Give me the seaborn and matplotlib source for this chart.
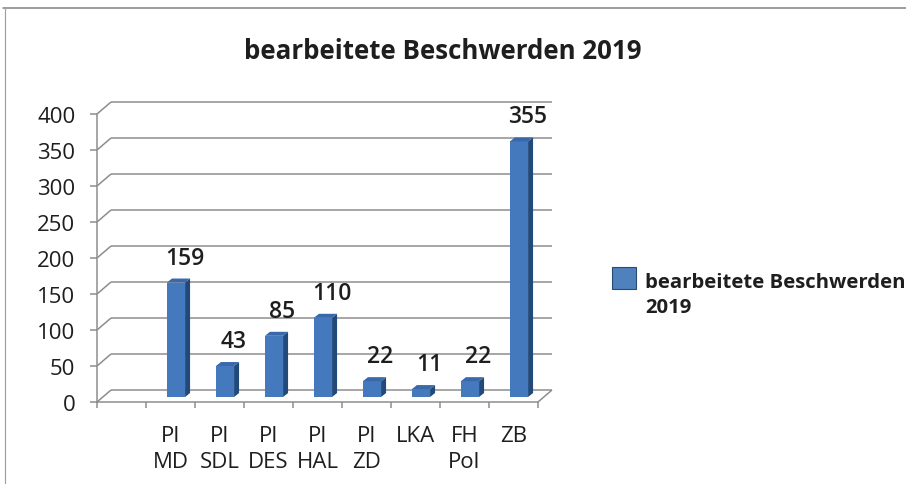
import numpy as np
import pandas as pd
import matplotlib
matplotlib.use("Agg")
import matplotlib.pyplot as plt
import seaborn as sns
from matplotlib.patches import Polygon, Patch, Rectangle
from matplotlib.lines import Line2D
from matplotlib.legend_handler import HandlerPatch
from matplotlib.transforms import IdentityTransform, ScaledTranslation, offset_copy

# ---- data ----
categories = ["PI\nMD", "PI\nSDL", "PI\nDES", "PI\nHAL", "PI\nZD", "LKA", "FH\nPol", "ZB"]
values = [159, 43, 85, 110, 22, 11, 22, 355]
series_name = "bearbeitete Beschwerden\n2019"
title = "bearbeitete Beschwerden 2019"
y_ticks = [0, 50, 100, 150, 200, 250, 300, 350, 400]

# ---- style ----
sns.set_theme(style="white")
plt.rcParams['font.family'] = ['Open Sans', 'DejaVu Sans']

W, H = 906, 485
DPI = 100
fig = plt.figure(figsize=(W / DPI, H / DPI), dpi=DPI)
fig.patch.set_facecolor("white")

front = "#4479BD"
side = "#21497A"
top = "#3969A8"
grid_c = "#8C8C8C"
text_c = "#1E1E1E"

ax = fig.add_axes([97 / W, (H - 403) / H, 441 / W, 288 / H])
df = pd.DataFrame({"cat": categories, "val": values})
sns.barplot(data=df, x="cat", y="val", width=0.37, color=front, saturation=1,
            ax=ax, zorder=3, edgecolor="none")
ax.set_xlim(-1.5, len(categories) - 0.5)
ax.set_ylim(0, 400)
ax.set_xlabel("")
ax.set_ylabel("")
ax.set_facecolor("none")

# 3D geometry (display pixels)
DX, DY = 14, 12          # back wall offset
MX, MY = 5.5, 5          # bar front-face offset
BX, BY = 5, 4            # bar depth

td = ax.transData
lw_px = 1.5
lw = lw_px * 72 / DPI
x_lo, x_hi = ax.get_xlim()
for v in y_ticks:
    p = td.transform((x_lo, v))
    q = td.transform((x_hi, v))
    segs = [[p, p + (DX, DY)], [p + (DX, DY), q + (DX, DY)]]
    if v == 0:
        segs.append([q, q + (DX, DY)])
    for s in segs:
        s = np.array(s)
        ax.add_line(Line2D(s[:, 0], s[:, 1], transform=IdentityTransform(),
                           color=grid_c, lw=lw, zorder=1, clip_on=False,
                           solid_capstyle="butt"))

shift = ScaledTranslation(MX / DPI, MY / DPI, fig.dpi_scale_trans)
for bar in ax.patches:
    x0 = bar.get_x()
    x1 = x0 + bar.get_width()
    h = bar.get_height()
    bar.set_transform(td + shift)
    bar.set_clip_on(False)
    a = td.transform((x0, h)) + (MX, MY)
    b = td.transform((x1, h)) + (MX, MY)
    c = td.transform((x1, 0)) + (MX, MY)
    d = np.array([BX, BY])
    ax.add_patch(Polygon([c, b, b + d, c + d], closed=True, facecolor=side,
                         edgecolor="none", transform=IdentityTransform(),
                         clip_on=False, zorder=3))
    ax.add_patch(Polygon([a, b, b + d, a + d], closed=True, facecolor=top,
                         edgecolor="none", transform=IdentityTransform(),
                         clip_on=False, zorder=3))

# data labels on back plane
lab_tr = offset_copy(td, fig=fig, x=DX, y=DY + 12, units="dots")
for i, v in enumerate(values):
    ax.text(i, v, f"{v}", transform=lab_tr, ha="center", va="baseline",
            fontsize=16.5, fontweight="semibold", color=text_c, clip_on=False)

# axes
for s in ["top", "right"]:
    ax.spines[s].set_visible(False)
for s in ["left", "bottom"]:
    ax.spines[s].set_color(grid_c)
    ax.spines[s].set_linewidth(lw)
ax.set_yticks(y_ticks)
ax.set_yticklabels([str(t) for t in y_ticks])
ax.tick_params(axis="y", which="major", direction="out", length=5, width=lw,
               color=grid_c, labelsize=16, labelcolor=text_c, pad=10.5, left=True)
ax.set_xticks(range(len(categories)))
ax.set_xticklabels(categories, linespacing=1.32)
ax.set_xticks(np.arange(-1.5, len(categories)), minor=True)
ax.tick_params(axis="x", which="major", length=0, labelsize=16,
               labelcolor=text_c, pad=16.5)
ax.tick_params(axis="x", which="minor", direction="out", length=4, width=lw,
               color=grid_c, bottom=True)
for t in ax.get_xticklabels():
    t.set_multialignment("center")
ax.grid(False)

# title
fig.text(443 / W, 1 - 59 / H, title, ha="center", va="baseline",
         fontsize=18.6, fontweight="bold", color=text_c)

# legend (square aligned with first text line)
PH = 22 * 72 / DPI
PY = 9.1


def top_square(legend, orig_handle, xdescent, ydescent, width, height, fontsize):
    return Rectangle((-xdescent, PY), width, PH)


handle = Patch(facecolor="#4F81BD", edgecolor="#2A4A70", linewidth=0.8)
leg_fs = 14.6
leg = ax.legend([handle], [series_name], loc="upper left",
                bbox_to_anchor=(612 / W, 1 - 273 / H), bbox_transform=fig.transFigure,
                frameon=False, prop={"size": leg_fs, "weight": "bold"},
                handlelength=24 * 72 / DPI / leg_fs, handleheight=0.7,
                handletextpad=0.45, borderaxespad=0, borderpad=0,
                handler_map={Patch: HandlerPatch(patch_func=top_square)})
for t in leg.get_texts():
    t.set_color(text_c)
    t.set_linespacing(1.35)

# outer frame lines
fig.add_artist(Line2D([3 / W, 1], [1 - 9 / H, 1 - 9 / H], transform=fig.transFigure,
                      color="#7F7F7F", lw=1.5 * 72 / DPI))
fig.add_artist(Line2D([5 / W, 5 / W], [0, 1 - 9 / H], transform=fig.transFigure,
                      color="#A0A0A0", lw=1.2 * 72 / DPI))

fig.savefig("out.png", dpi=DPI, facecolor="white")
